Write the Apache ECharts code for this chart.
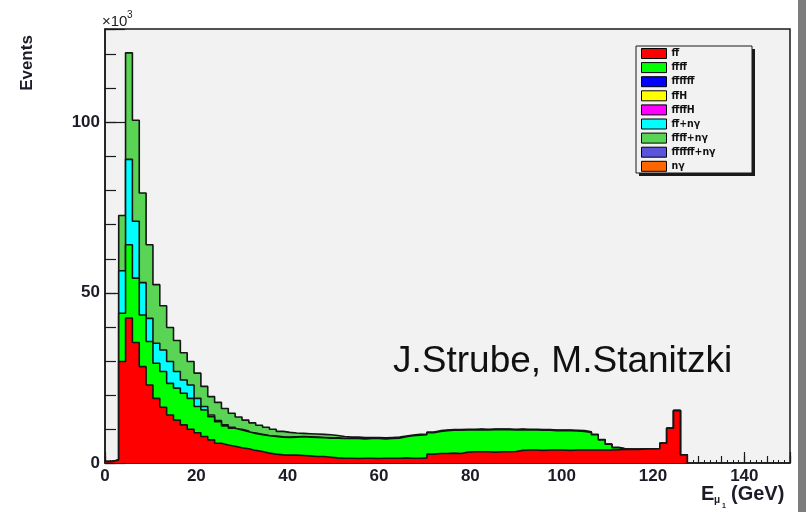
<!DOCTYPE html>
<html><head><meta charset="utf-8">
<script src="https://cdn.jsdelivr.net/npm/echarts@6/dist/echarts.min.js"></script>
<style>html,body{margin:0;padding:0;background:#fff;}#c{width:806px;height:512px;}</style>
</head><body><div id="c"></div>
<script>
// Histogram: 1.5 GeV bins starting at 0 GeV (values in units of 10^3 events)
const BIN_WIDTH = 1.5;
const xTicks = [0, 20, 40, 60, 80, 100, 120, 140];
const yTicks = [0, 50, 100];

const ff = [0.4,0.9,29.8,42.6,35.4,28.3,22.9,19.0,16.4,14.1,
 12.6,11.2,9.9,8.9,7.8,6.8,5.8,5.3,4.9,4.5,
 4.2,3.7,3.4,2.9,2.6,2.4,2.3,2.3,2.2,2.1,
 1.9,1.9,1.7,1.5,1.4,1.4,1.3,1.4,1.4,1.3,
 1.4,1.4,1.4,1.5,1.4,1.4,1.5,2.6,2.8,2.8,
 2.9,2.8,3.2,3.3,3.3,3.3,3.2,3.3,3.3,3.4,
 3.7,3.8,3.8,3.7,3.8,3.8,3.8,3.7,3.8,3.8,
 3.8,3.8,3.8,3.8,3.9,4.0,4.0,4.0,4.1,4.1,
 4.2,5.8,10.2,15.4,2.4];
const ffff = [0,0,14.2,21.5,18.9,15.2,12.8,10.3,10.5,9.3,
 9.4,9.3,9.1,7.7,7.8,6.8,6.3,5.6,5.3,5.2,
 5.0,5.0,4.9,5.1,5.2,5.2,5.2,5.3,5.5,5.5,
 5.6,5.5,5.6,5.8,5.8,5.8,5.9,5.7,5.8,5.9,
 5.7,5.8,5.9,6.2,6.6,6.8,6.8,6.3,6.5,6.7,
 6.7,6.8,6.5,6.4,6.5,6.4,6.6,6.5,6.5,6.3,
 6.1,5.9,5.9,5.9,5.8,5.7,5.7,5.8,5.6,5.5,
 5.2,4.5,3.0,1.7,0.6,0.1,0,0,0,0,
 0,0,0,0,0];
const ffNg = [0,0,12.5,25.1,16.7,9.5,6.8,5.9,6.3,6.4,
 4.9,3.9,3.9,2.4,1.0,0.5,0.4,0.3,0.3,0.2,
 0.2,0.1,0.1,0.1,0.1,0.1,0.1,0.1,0.1,0.1,
 0.1,0.1,0.1,0.1,0,0,0,0,0,0,
 0,0,0,0,0,0,0,0,0,0,
 0,0,0,0,0,0,0,0,0,0,
 0,0,0,0,0,0,0,0,0,0,
 0,0,0,0,0,0,0,0,0,0,
 0,0,0,0,0];
const ffffNg = [0,0,16.2,31.3,29.7,26.3,21.6,17.2,13.0,10.0,
 9.1,8.0,6.9,7.4,5.9,5.4,5.3,4.8,4.1,3.6,
 3.2,3.0,2.7,2.4,2.0,1.6,1.4,1.1,0.9,0.9,
 0.9,0.9,0.9,0.7,0.6,0.4,0.4,0.4,0.3,0.3,
 0.3,0.3,0.3,0.2,0.2,0.2,0.2,0.2,0.2,0.2,
 0.2,0.2,0.2,0.2,0.2,0.2,0.2,0.2,0.2,0.2,
 0.2,0.2,0.2,0.2,0.2,0.2,0.2,0.2,0.2,0.2,
 0.2,0.1,0.1,0.1,0.1,0.1,0,0,0,0,
 0,0,0,0,0];

const FB = 'f\u0305';   // f with overline (anti-fermion)
const names = ['f'+FB, 'f'+FB+'f'+FB, 'f'+FB+'f'+FB+'f'+FB, 'f'+FB+'H', 'f'+FB+'f'+FB+'H',
  'f'+FB+'+nγ', 'f'+FB+'f'+FB+'+nγ', 'f'+FB+'f'+FB+'f'+FB+'+nγ', 'nγ'];
const colors = ['#ff0000','#00ff00','#0000ff','#ffff00','#ff00ff','#00ffff','#59d454','#5954d9','#ff6600'];
const layers = [ff, ffff, [], [], [], ffNg, ffffNg, [], []];

// THStack-style drawing: each component is drawn as the cumulative sum of itself and those below it
const cumulative = [];
let running = null;
layers.forEach((vals) => {
  if (!vals.length) { cumulative.push([]); return; }
  running = running ? running.map((v, i) => v + vals[i]) : vals.slice();
  cumulative.push(running.slice());
});

function toSteps(vals){
  if (!vals.length) return [];
  const pts = vals.map((v,i)=>[i*BIN_WIDTH, +v.toFixed(2)]);
  pts.push([vals.length*BIN_WIDTH, 0]);
  return pts;
}

const series = names.map((n,k)=>({
  name: n, type: 'line', step: 'end', showSymbol: false, symbol: 'none',
  color: colors[k],
  lineStyle: {color: '#151515', width: 1.6},
  areaStyle: {color: colors[k], opacity: 1, origin: 'start'},
  data: toSteps(cumulative[k]),
  animation: false, z: 20 - k
}));

const FONT = "'Liberation Sans', Arial, sans-serif";
const lab = {fontFamily: FONT, fontWeight: 'bold', fontSize: 17, color: '#1c1c28'};

const chart = echarts.init(document.getElementById('c'), null, {renderer: 'canvas'});
chart.setOption({
  animation: false,
  backgroundColor: '#ffffff',
  grid: {left: 105, right: 16, top: 29, bottom: 49, show: true, backgroundColor: '#f2f2f2',
         borderColor: '#1a1a1a', borderWidth: 1.5, outerBoundsMode: 'none', containLabel: false},
  xAxis: [
    {type: 'value', min: 0, max: 150, interval: 5, z: 1,
     axisLine: {show: true, lineStyle: {color: '#1a1a1a', width: 1.5}},
     axisTick: {show: true, inside: true, length: 7, lineStyle: {color: '#1a1a1a', width: 1.2}},
     minorTick: {show: true, splitNumber: 4, length: 3, lineStyle: {color: '#1a1a1a', width: 1}},
     splitLine: {show: false},
     axisLabel: Object.assign({margin: 5, formatter: v => xTicks.includes(v) ? String(v) : ''}, lab)},
    {type: 'value', min: 0, max: 150, interval: 20, position: 'bottom', z: 1,
     axisLine: {show: false}, splitLine: {show: false}, axisLabel: {show: false},
     axisTick: {show: true, inside: true, length: 11, lineStyle: {color: '#1a1a1a', width: 1.2}}}
  ],
  yAxis: [
    {type: 'value', min: 0, max: 127.5, interval: 10, z: 1,
     axisLine: {show: true, lineStyle: {color: '#1a1a1a', width: 1.5}},
     axisTick: {show: true, inside: true, length: 11, lineStyle: {color: '#1a1a1a', width: 1.2}},
     splitLine: {show: false},
     axisLabel: Object.assign({margin: 5, formatter: v => yTicks.includes(v) ? String(v) : ''}, lab)},
    {type: 'value', min: 0, max: 127.5, interval: 50, position: 'left', z: 1,
     axisLine: {show: false}, splitLine: {show: false}, axisLabel: {show: false},
     axisTick: {show: true, inside: true, length: 20, lineStyle: {color: '#1a1a1a', width: 1.2}}}
  ],
  legend: {
    data: names, orient: 'vertical', left: 641, top: 48, icon: 'rect', z: 40, padding: 0,
    itemWidth: 25, itemHeight: 10, itemGap: 3.1, selectedMode: false,
    itemStyle: {borderColor: '#000', borderWidth: 1},
    textStyle: {fontFamily: "'DejaVu Sans Condensed', 'Liberation Sans Narrow', 'Liberation Sans', sans-serif",
                fontWeight: 'bold', fontSize: 10.5, lineHeight: 10, color: '#111'}
  },
  graphic: [
    {type: 'rect', z: 35, shape: {x: 639, y: 49, width: 116, height: 127}, style: {fill: '#1a1a1a'}},
    {type: 'rect', z: 35, shape: {x: 636, y: 46, width: 116, height: 127}, style: {fill: '#f2f2f2', stroke: '#1a1a1a', lineWidth: 1}},
    {type: 'rect', z: 50, shape: {x: 798, y: 0, width: 8, height: 512}, style: {fill: '#7d7d7d'}},
    {type: 'text', z: 50, x: 393, y: 362, style: {text: 'J.Strube, M.Stanitzki', font: "37px 'Liberation Sans', Arial, sans-serif",
      fill: '#111', textVerticalAlign: 'middle', textAlign: 'left'}},
    {type: 'text', z: 50, x: 27, y: 63, rotation: Math.PI/2, style: {text: 'Events', font: "bold 17px 'Liberation Sans', Arial, sans-serif",
      fill: '#1c1c28', textAlign: 'center', textVerticalAlign: 'middle'}},
    {type: 'text', z: 50, x: 102, y: 22, style: {text: '×10', font: "15px 'Liberation Sans', Arial, sans-serif",
      fill: '#222', textAlign: 'left', textVerticalAlign: 'middle'}},
    {type: 'text', z: 50, x: 127, y: 15, style: {text: '3', font: "10px 'Liberation Sans', Arial, sans-serif",
      fill: '#222', textAlign: 'left', textVerticalAlign: 'middle'}},
    {type: 'text', z: 50, x: 701, y: 494, style: {text: 'E', font: "bold 20px 'Liberation Sans', Arial, sans-serif",
      fill: '#1c1c28', textAlign: 'left', textVerticalAlign: 'middle'}},
    {type: 'text', z: 50, x: 714, y: 500, style: {text: 'μ', font: "bold 10px 'Liberation Sans', Arial, sans-serif",
      fill: '#1c1c28', textAlign: 'left', textVerticalAlign: 'middle'}},
    {type: 'text', z: 50, x: 722, y: 506, style: {text: '1', font: "bold 7px 'Liberation Sans', Arial, sans-serif",
      fill: '#1c1c28', textAlign: 'left', textVerticalAlign: 'middle'}},
    {type: 'text', z: 50, x: 731, y: 494, style: {text: '(GeV)', font: "bold 20px 'Liberation Sans', Arial, sans-serif",
      fill: '#1c1c28', textAlign: 'left', textVerticalAlign: 'middle'}}
  ],
  series: series
});
</script></body></html>
